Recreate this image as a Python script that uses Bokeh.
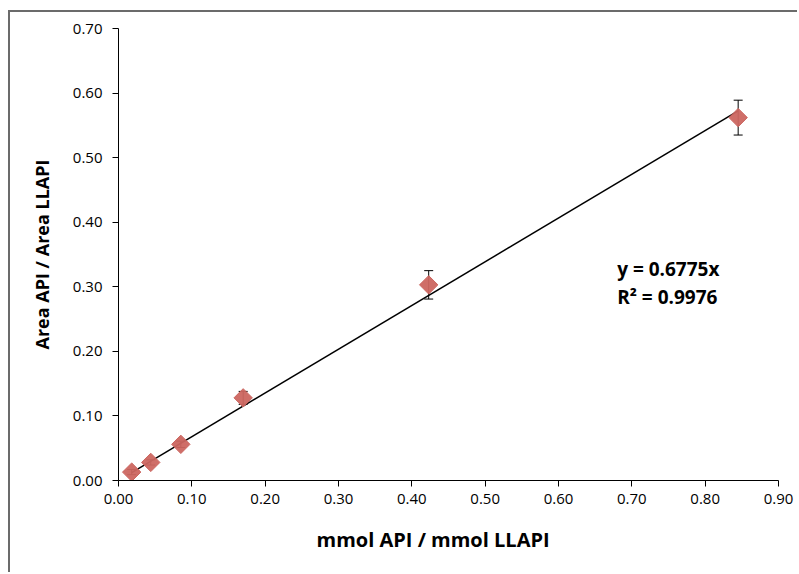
from bokeh.plotting import figure
from bokeh.models import ColumnDataSource, Whisker, Range1d, FixedTicker, NumeralTickFormatter, Title
from bokeh.core.properties import value
from bokeh.embed import file_html
from bokeh.resources import INLINE
import math

# data
x_vals = [0.018, 0.044, 0.085, 0.170, 0.423, 0.845]
y_vals = [0.013, 0.028, 0.056, 0.128, 0.303, 0.562]
y_err = [0.004, 0.004, 0.005, 0.010, 0.022, 0.027]
slope = 0.6775
r2 = 0.9976
x_ticks = [0.0, 0.1, 0.2, 0.3, 0.4, 0.5, 0.6, 0.7, 0.8, 0.9]
y_ticks = [0.0, 0.1, 0.2, 0.3, 0.4, 0.5, 0.6, 0.7]
x_title = "mmol API / mmol LLAPI"
y_title = "Area API / Area LLAPI"

W = 789
H = 562
p = figure(width=W, height=H, output_backend="svg", toolbar_location=None,
           x_range=Range1d(0, 0.9), y_range=Range1d(0, 0.7),
           min_border_left=108, min_border_right=21, min_border_top=16, min_border_bottom=94)
p.styles = {"border-left": "2px solid #6b6b6b", "border-top": "2px solid #6b6b6b",
            "margin-left": "8px", "margin-top": "10px"}
p.outline_line_color = None
p.grid.visible = False
p.background_fill_color = "white"
p.border_fill_color = "white"

font = "Open Sans"
for ax in (p.xaxis[0], p.yaxis[0]):
    ax.axis_line_color = "#000000"
    ax.axis_line_width = 1
    ax.major_tick_line_color = "#000000"
    ax.major_tick_in = 0
    ax.major_tick_out = 6
    ax.minor_tick_line_color = None
    ax.major_label_text_font = font
    ax.major_label_text_font_size = "15px"
    ax.major_label_text_color = "#000000"
    ax.axis_label_text_font = font
    ax.axis_label_text_font_style = "bold"
    ax.axis_label_text_color = "#000000"
    ax.formatter = NumeralTickFormatter(format="0.00")

p.yaxis.axis_label_text_font_size = "18px"
p.xaxis.ticker = FixedTicker(ticks=x_ticks)
p.yaxis.ticker = FixedTicker(ticks=y_ticks)
p.yaxis.axis_label = y_title
p.xaxis.major_label_standoff = 7
p.yaxis.major_label_standoff = 10
p.yaxis.axis_label_standoff = 16

# x title, placed below the axis, slightly left of the frame centre
p.add_layout(Title(text=x_title, align="left", offset=198, standoff=35,
                   text_font=font, text_font_size="20px", text_font_style="bold",
                   text_color="black"), "below")

# trendline
tx = [x_vals[0], x_vals[-1]]
ty = [slope * v for v in tx]
p.line(tx, ty, line_color="black", line_width=1.5)

# error bars
src = ColumnDataSource(dict(x=x_vals, y=y_vals,
                            upper=[y + e for y, e in zip(y_vals, y_err)],
                            lower=[y - e for y, e in zip(y_vals, y_err)]))
wh = Whisker(source=src, base="x", upper="upper", lower="lower",
             line_color="black", line_width=1)
wh.upper_head.size = 9
wh.lower_head.size = 9
wh.upper_head.line_color = "black"
wh.lower_head.line_color = "black"
p.add_layout(wh)

# markers
p.scatter("x", "y", source=src, marker="square", angle=math.pi / 4, size=13,
          fill_color="#cc6660", line_color="#cc6660", fill_alpha=0.95)

# equation text
p.text(x=[0.680], y=[0.347], text=["y = %.4fx" % slope], text_font=value(font),
       text_font_size="19px", text_font_style="bold", text_baseline="top", text_color="black")
p.text(x=[0.680], y=[0.305], text=["R² = %.4f" % r2], text_font=value(font),
       text_font_size="19px", text_font_style="bold", text_baseline="top", text_color="black")

open("out.html", "w").write(file_html(p, INLINE))
